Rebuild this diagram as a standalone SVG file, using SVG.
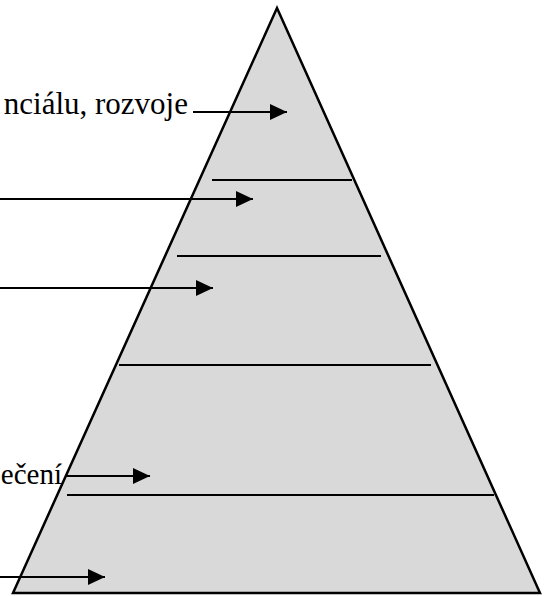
<svg xmlns="http://www.w3.org/2000/svg" width="549" height="596" viewBox="0 0 549 596">
  <style>
    .edge { stroke: #000; stroke-width: 2; fill: none; }
    .sep { stroke: #000; stroke-width: 2; }
    .lbl { font-family: "Liberation Serif", "Times New Roman", serif; font-size: 31px; fill: #000; }
  </style>
  <defs>
    <marker id="ah" markerUnits="userSpaceOnUse" markerWidth="18" markerHeight="16" refX="17" refY="8" orient="auto">
      <path d="M0,0 L17,8 L0,16 Z" fill="#000"/>
    </marker>
  </defs>
  <rect width="549" height="596" fill="#fff"/>
  <g id="pyramid">
    <polygon points="277,8 13,593 540,593" fill="#d9d9d9" stroke="#000" stroke-width="2.5" stroke-linejoin="miter"/>
  </g>
  <g id="levels">
    <line class="sep" x1="212" y1="180" x2="352" y2="180"/>
    <line class="sep" x1="177" y1="256" x2="381" y2="256"/>
    <line class="sep" x1="119" y1="365" x2="431" y2="365"/>
    <line class="sep" x1="67" y1="495" x2="494" y2="495"/>
  </g>
  <g id="labels">
    <text class="lbl" x="188" y="114" text-anchor="end">nciálu, rozvoje</text>
    <text class="lbl" x="62" y="484" text-anchor="end" font-size="29" style="font-size:29px">ečení</text>
  </g>
  <g id="connectors">
    <line class="edge" x1="193" y1="112" x2="287" y2="112" marker-end="url(#ah)"/>
    <line class="edge" x1="0" y1="199" x2="253" y2="199" marker-end="url(#ah)"/>
    <line class="edge" x1="0" y1="288" x2="213" y2="288" marker-end="url(#ah)"/>
    <line class="edge" x1="67" y1="476" x2="150" y2="476" marker-end="url(#ah)"/>
    <line class="edge" x1="0" y1="577" x2="105" y2="577" marker-end="url(#ah)"/>
  </g>
</svg>
